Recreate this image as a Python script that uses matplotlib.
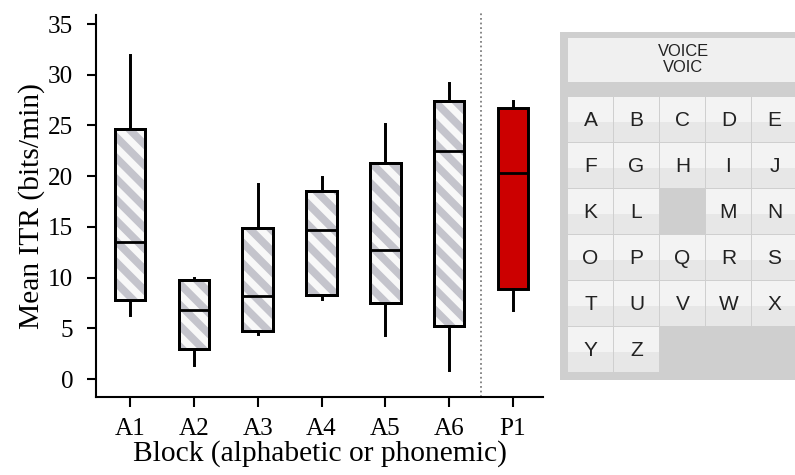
import matplotlib
matplotlib.use("Agg")
import matplotlib.pyplot as plt
from matplotlib.patches import Rectangle, PathPatch

# === Data ===
blocks = ['A1', 'A2', 'A3', 'A4', 'A5', 'A6', 'P1']
whis_lo = [6.3, 1.4, 4.4, 7.9, 4.3, 0.9, 6.8]
q1 = [7.8, 3.0, 4.7, 8.3, 7.5, 5.2, 8.9]
med = [13.5, 6.8, 8.2, 14.7, 12.7, 22.5, 20.3]
q3 = [24.7, 9.8, 14.9, 18.5, 21.3, 27.4, 26.7]
whis_hi = [31.9, 10.0, 19.2, 19.9, 25.1, 29.2, 27.4]

keyboard_rows = [['A', 'B', 'C', 'D', 'E'],
                 ['F', 'G', 'H', 'I', 'J'],
                 ['K', 'L', '', 'M', 'N'],
                 ['O', 'P', 'Q', 'R', 'S'],
                 ['T', 'U', 'V', 'W', 'X'],
                 ['Y', 'Z']]
display_lines = ['VOICE', 'VOIC']

# === Style ===
DPI = 125
W, H = 795, 475
plt.rcParams['font.family'] = ['Liberation Serif', 'DejaVu Serif']
plt.rcParams['hatch.linewidth'] = 4.4

fig = plt.figure(figsize=(W / DPI, H / DPI), dpi=DPI)
ax = fig.add_axes([96 / W, 1 - 397 / H, (543 - 96) / W, (397 - 15) / H])

stats = []
for i, b in enumerate(blocks):
    stats.append(dict(label=b, whislo=whis_lo[i], q1=q1[i], med=med[i],
                      q3=q3[i], whishi=whis_hi[i], fliers=[]))

bp = ax.bxp(stats, positions=range(len(blocks)), widths=0.48,
            patch_artist=True, showcaps=False, showfliers=False,
            boxprops=dict(facecolor='#f8f8f8', edgecolor='black', linewidth=1.7),
            whiskerprops=dict(color='black', linewidth=1.7),
            medianprops=dict(color='black', linewidth=1.6))

for i, box in enumerate(bp['boxes']):
    if blocks[i].startswith('P'):
        box.set_facecolor('#cc0000')
        continue
    # gray diagonal stripes on top of the light face
    ax.add_patch(PathPatch(box.get_path(), transform=box.get_transform(),
                           fill=False, hatch='\\\\', edgecolor='#c4c4cc',
                           linewidth=0, zorder=2.03))
    ax.add_patch(PathPatch(box.get_path(), transform=box.get_transform(),
                           fill=False, edgecolor='black', linewidth=1.7,
                           zorder=2.06))

# separator between alphabetic and phonemic blocks
ax.axvline(5.5, ymin=0, ymax=1.008, color='#777777', linestyle=':',
           linewidth=1.0, clip_on=False)

ax.set_xlim(-0.533, 6.47)
ax.set_ylim(-1.77, 35.89)
ax.set_yticks(range(0, 36, 5))
ax.set_xticks(range(len(blocks)))
ax.set_xticklabels(blocks)
ax.spines['top'].set_visible(False)
ax.spines['right'].set_visible(False)
for s in ['left', 'bottom']:
    ax.spines[s].set_linewidth(1.2)
ax.tick_params(axis='y', length=5, width=1.2, pad=8, labelsize=14.5)
ax.tick_params(axis='x', length=6, width=1.2, pad=6, labelsize=14.5)
ax.set_ylabel('Mean ITR (bits/min)', fontsize=17, labelpad=2)
ax.set_xlabel('Block (alphabetic or phonemic)', fontsize=17, labelpad=0)

# === Keyboard panel (pixel coordinates) ===
kb = fig.add_axes([550 / W, 0, (W - 550) / W, 1])
kb.set_xlim(550, W)
kb.set_ylim(H, 0)
kb.axis('off')

kb.add_patch(Rectangle((560, 32), 260, 348, facecolor='#cfcfcf', edgecolor='none'))
kb.add_patch(Rectangle((568, 38), 250, 44, facecolor='#f0f0f0', edgecolor='none'))
for j, line in enumerate(display_lines):
    kb.text(683, 51 + 16 * j, line, ha='center', va='center', fontsize=9.5,
            family=['Liberation Sans'], color='#222222')

key_x0, key_y0, pitch, size = 568, 97, 46, 45
for r, row in enumerate(keyboard_rows):
    for c, letter in enumerate(row):
        if letter == '':
            continue
        x = key_x0 + c * pitch
        y = key_y0 + r * pitch
        kb.add_patch(Rectangle((x, y), size, size * 0.55, facecolor='#f3f3f3',
                               edgecolor='none'))
        kb.add_patch(Rectangle((x, y + size * 0.55), size, size * 0.45,
                               facecolor='#e7e7e7', edgecolor='none'))
        kb.text(x + size / 2, y + size / 2 + 1, letter, ha='center', va='center',
                fontsize=12, family=['Liberation Sans'], color='#222222')

fig.savefig('out.png', dpi=DPI)
